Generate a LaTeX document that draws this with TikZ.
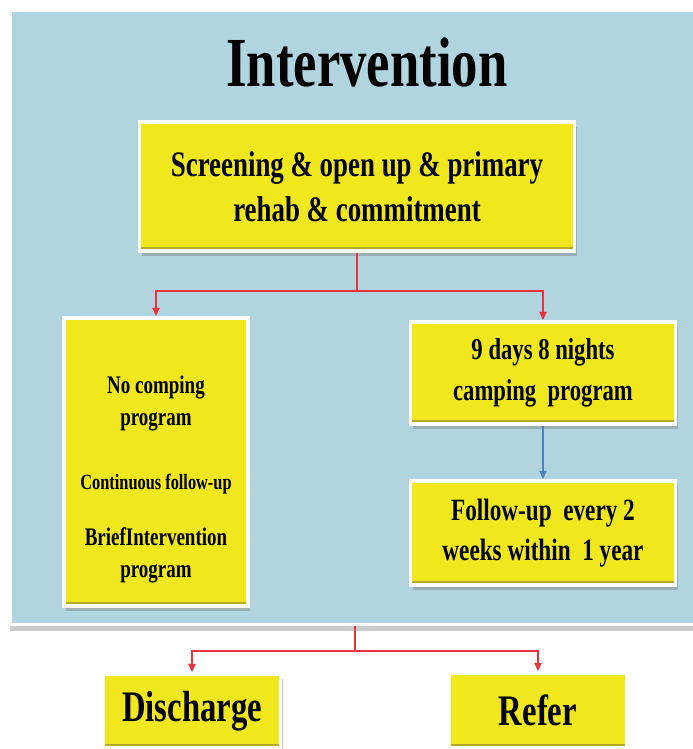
\documentclass[tikz,border=0pt]{standalone}
\usepackage{fontspec}
\newfontfamily\boxfont{Liberation Serif}[FakeStretch=0.75]
\usetikzlibrary{arrows.meta,shadows}
\definecolor{panelblue}{RGB}{176,213,223}
\definecolor{boxyellow}{RGB}{240,232,28}
\definecolor{boxolive}{RGB}{178,170,40}
\definecolor{linered}{RGB}{232,52,60}
\definecolor{lineblue}{RGB}{79,129,189}
\begin{document}
\begin{tikzpicture}[x=0.025cm,y=-0.025cm,
    yellowbox/.style={draw=white,line width=2.5pt,fill=boxyellow,align=center,inner sep=0pt,
      drop shadow={shadow xshift=1.5pt,shadow yshift=-3.5pt,opacity=0.45},
      path picture={\fill[boxolive] ([yshift=3pt]path picture bounding box.south west) rectangle (path picture bounding box.south east);},
      font=\boxfont\bfseries},
    redline/.style={draw=linered,line width=1.5pt,-{Triangle[length=6pt,width=5pt]}},
    blueline/.style={draw=lineblue,line width=1.2pt,-{Triangle[length=6pt,width=5pt]}}]
  \useasboundingbox[fill=white] (0,0) rectangle (692,749);
  \node[draw=white,line width=2.5pt,fill=panelblue,minimum width=17.25cm,minimum height=15.35cm,
        drop shadow={shadow xshift=0pt,shadow yshift=-4.5pt,opacity=0.4}] (panel) at (355,317.5) {};
  \node[anchor=base,font=\boxfont\bfseries\fontsize{50}{60}\selectfont] (title) at (367,87) {Intervention};

  \node[yellowbox,minimum width=10.875cm,minimum height=3.225cm,
        font=\boxfont\bfseries\fontsize{25.5}{32}\selectfont] (screen) at (357,186.5)
        {Screening \& open up \& primary\\rehab \& commitment};
  \node[yellowbox,minimum width=4.6cm,minimum height=7.2cm,
        font=\boxfont\bfseries\fontsize{18}{22.8}\selectfont] (nocamp) at (156,462)
        {\mbox{}\\[0.5cm]No comping\\program\\[0.8cm]{\fontsize{15.5}{22.8}\selectfont Continuous follow-up}\\[0.6cm]BriefIntervention\\program};
  \node[yellowbox,minimum width=6.625cm,minimum height=2.55cm,
        font=\boxfont\bfseries\fontsize{21.5}{28}\selectfont] (camp) at (543,373)
        {9 days 8 nights\\[0.05cm]camping~ program};
  \node[yellowbox,minimum width=6.625cm,minimum height=2.6cm,
        font=\boxfont\bfseries\fontsize{22}{29}\selectfont] (follow) at (543,533)
        {Follow-up~ every 2\\weeks within~ 1 year};
  \node[yellowbox,minimum width=4.425cm,minimum height=1.85cm,
        font=\boxfont\bfseries\fontsize{31}{36}\selectfont] (discharge) at (192,711) {Discharge};
  \node[yellowbox,minimum width=4.45cm,minimum height=1.875cm,
        font=\boxfont\bfseries\fontsize{31}{36}\selectfont] (refer) at (538,710.5) {Refer};

  \draw[redline] (screen.south) -- ++(0,38) -| (nocamp.north);
  \draw[redline] (screen.south) -- ++(0,38) -| (camp.north);
  \draw[blueline] (camp.south) -- (follow.north);
  \draw[redline] (panel.south) -- ++(0,25) -| (discharge.north);
  \draw[redline] (panel.south) -- ++(0,25) -| (refer.north);
\end{tikzpicture}
\end{document}
